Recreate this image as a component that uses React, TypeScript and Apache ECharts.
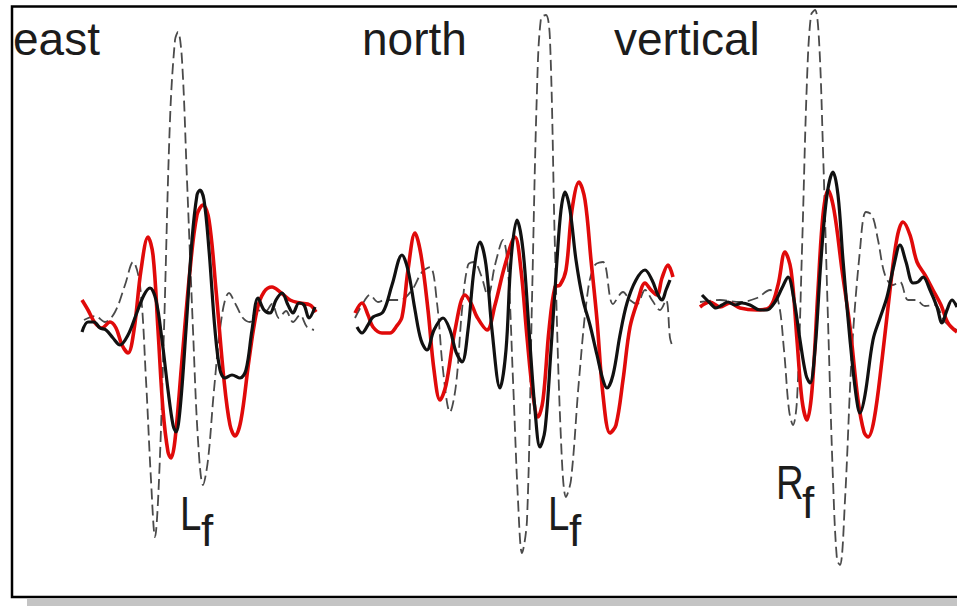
import React, { useEffect, useRef } from "react";
import * as echarts from "echarts";

// Panel titles and phase labels
const panelTitles = ["east", "north", "vertical"];
const phaseLabels = ["L", "L", "R"];
const phaseSub = ["f", "f", "f"];

// Time (s) / amplitude pairs
const eastDashed = [
  [0.4, -2.0], [1.5, -1.6], [2.5, -2.2], [3.5, -1.2], [4.5, 1.5], [5.3, 3.8], [6.0, 1.5], [6.6, -8.0],
  [7.1, -18.0], [7.5, -23.7], [7.9, -18.0], [8.4, -3.0], [9.0, 18.0], [9.5, 26.0], [9.8, 26.8], [10.2, 24.0],
  [10.7, 12.0], [11.3, -3.0], [11.8, -14.0], [12.3, -18.5], [12.8, -16.0], [13.4, -9.0], [14.2, -1.5],
  [14.9, 0.7], [15.6, -0.5], [16.3, -1.8], [17.0, -2.2], [17.7, -1.0], [18.5, -1.2], [19.2, -0.4],
  [19.9, -1.8], [20.6, -1.1], [21.3, -2.2], [22.0, -1.5], [22.7, -2.7], [23.4, -3.0],
];
const eastRed = [
  [0.2, 0.0], [0.8, -1.0], [1.5, -2.3], [2.2, -2.8], [3.0, -2.2], [3.6, -2.8], [4.2, -4.5], [4.8, -5.3],
  [5.4, -3.0], [6.1, 3.0], [6.8, 6.3], [7.3, 4.5], [7.8, -3.0], [8.3, -11.0], [8.8, -15.2], [9.1, -15.8],
  [9.5, -14.0], [10.2, -6.0], [11.0, 3.0], [11.7, 8.5], [12.3, 9.5], [12.9, 8.0], [13.6, 1.0], [14.4, -8.0],
  [15.0, -12.5], [15.5, -13.6], [16.1, -12.0], [16.9, -6.0], [17.7, -1.0], [18.4, 0.8], [19.2, 1.3],
  [20.0, 0.8], [21.0, 0.0], [22.0, -0.3], [23.0, -0.5], [23.6, -1.2],
];
const eastBlack = [
  [0.2, -3.2], [0.8, -2.2], [1.4, -2.2], [2.0, -2.8], [2.6, -3.0], [3.3, -3.8], [4.0, -4.5], [4.8, -3.5],
  [5.6, -1.5], [6.4, 0.5], [7.0, 1.2], [7.6, 0.0], [8.2, -4.0], [8.8, -9.0], [9.3, -12.5], [9.6, -13.2],
  [10.0, -11.0], [10.6, -3.0], [11.2, 6.0], [11.7, 10.5], [12.0, 11.0], [12.4, 10.0], [12.9, 5.0],
  [13.5, -3.0], [14.0, -7.0], [14.5, -7.8], [15.2, -7.5], [16.0, -7.8], [16.6, -7.0], [17.2, -3.0],
  [17.8, 0.2], [18.4, -1.0], [19.0, -1.3], [19.6, 0.0], [20.2, 0.7], [20.8, -0.5], [21.3, -1.3],
  [21.9, -0.3], [22.4, -0.5], [22.9, -1.8], [23.5, -0.7],
];

const northDashed = [
  [0.5, -1.8], [1.2, -0.5], [2.0, 0.5], [2.8, -0.2], [3.5, 0.0], [5.0, 0.0], [6.2, 1.0], [7.2, 2.8],
  [8.0, 3.3], [8.7, -0.3], [9.3, -7.0], [10.0, -11.2], [10.6, -8.5], [11.2, -1.0], [11.8, 3.5], [12.4, 3.8],
  [13.1, 2.5], [13.8, 0.4], [14.5, 3.5], [15.3, 6.0], [15.8, 3.0], [16.3, -8.0], [16.8, -20.0], [17.2, -25.3],
  [17.7, -22.0], [18.2, 0.0], [18.7, 21.0], [19.1, 28.2], [19.6, 28.5], [20.0, 26.0], [20.5, 5.0],
  [21.1, -14.0], [21.6, -19.7], [22.1, -18.0], [22.9, -8.0], [23.8, 1.0], [24.5, 3.5], [25.3, 3.8],
  [26.3, -0.4], [27.3, 0.8], [28.0, 0.0], [28.7, -0.4], [29.5, 1.0], [30.2, 0.0], [31.0, -1.0], [31.6, 0.0],
  [32.0, -3.8], [32.2, -4.5],
];
const northRed = [
  [0.5, -1.3], [1.2, -0.3], [1.8, -1.5], [2.3, -2.7], [3.2, -3.3], [4.0, -3.3], [4.6, -2.7], [5.2, -1.7],
  [5.8, 3.0], [6.5, 6.7], [7.1, 4.5], [7.8, -1.0], [8.4, -7.0], [9.0, -10.0], [9.6, -8.5], [10.5, -3.0],
  [11.5, 0.5], [12.1, -0.3], [12.7, -1.7], [13.7, -3.0], [14.5, -0.5], [15.5, 3.5], [16.5, 6.3], [17.1, 3.0],
  [17.7, -3.7], [18.3, -9.5], [18.8, -11.7], [19.3, -10.0], [19.9, -3.0], [20.5, 1.3], [21.0, 1.5],
  [21.6, 3.0], [22.2, 9.0], [22.9, 11.8], [23.5, 10.0], [24.1, 4.0], [24.7, -2.0], [25.3, -9.5],
  [26.0, -13.3], [26.6, -12.5], [27.3, -8.0], [28.0, -2.7], [28.8, 0.0], [29.5, 1.7], [30.1, 1.0],
  [30.7, 0.5], [31.2, 2.2], [31.8, 3.5], [32.3, 2.3],
];
const northBlack = [
  [0.7, -2.7], [1.2, -3.3], [1.8, -2.5], [2.3, -1.7], [3.3, -1.2], [4.2, 1.5], [5.2, 4.5], [5.8, 3.0],
  [6.5, -1.0], [7.1, -4.0], [7.7, -5.0], [8.4, -3.0], [9.3, -1.8], [10.0, -3.0], [10.6, -5.2], [11.2, -6.2],
  [11.8, -3.0], [12.4, 3.0], [13.0, 5.8], [13.6, 3.5], [14.2, -3.0], [15.0, -8.8], [15.6, -5.0], [16.1, 4.0],
  [16.7, 8.0], [17.3, 5.0], [17.9, -3.0], [18.5, -11.0], [19.0, -14.7], [19.5, -13.0], [20.1, -5.0],
  [20.7, 4.0], [21.1, 9.0], [21.5, 10.8], [22.0, 9.0], [22.6, 4.0], [23.3, 0.0], [24.0, -2.5], [24.7, -5.5],
  [25.3, -8.0], [25.7, -8.8], [26.3, -7.5], [27.0, -3.5], [27.7, -0.3], [28.6, 2.0], [29.5, 3.0],
  [30.2, 2.0], [30.8, 0.5], [31.2, 0.0], [31.6, 1.0], [32.0, 2.0],
];

const verticalDashed = [
  [0.5, -0.2], [2.5, 0.0], [4.5, -0.2], [6.2, 0.2], [7.5, 1.0], [8.3, 0.0], [8.9, -5.0], [9.4, -11.0],
  [9.8, -12.5], [10.2, -10.0], [10.7, 5.0], [11.2, 22.0], [11.6, 28.5], [12.0, 29.0], [12.4, 26.0],
  [12.8, 15.0], [13.3, -2.0], [13.8, -18.0], [14.2, -26.0], [14.5, -26.5], [15.0, -20.0], [15.7, -5.0],
  [16.5, 5.0], [17.1, 8.8], [17.7, 8.5], [18.3, 6.0], [19.0, 2.5], [19.8, 1.5], [20.5, 1.8], [21.3, 0.0],
  [22.1, 0.0], [23.0, -0.6], [24.0, -0.5], [25.0, -2.2], [26.2, -3.0],
];
const verticalRed = [
  [0.5, -0.7], [1.5, -0.2], [2.5, -0.7], [3.5, -0.3], [4.5, -0.8], [6.2, -1.0], [7.5, -0.7], [8.3, 1.5],
  [9.0, 4.8], [9.6, 3.0], [10.2, -4.0], [10.7, -10.0], [11.2, -12.0], [11.7, -9.0], [12.3, 1.0], [12.8, 8.5],
  [13.3, 11.0], [13.9, 9.0], [14.7, 3.0], [15.5, -2.7], [16.3, -10.0], [16.9, -13.2], [17.3, -13.7],
  [17.9, -12.0], [18.7, -6.0], [19.5, 1.0], [20.2, 6.2], [20.8, 7.8], [21.5, 6.5], [22.2, 3.8], [23.0, 2.5],
  [23.8, 1.0], [24.6, -0.5], [25.3, -2.3], [26.2, -3.2],
];
const verticalBlack = [
  [0.7, 0.5], [1.5, -0.3], [2.1, -0.8], [2.7, -0.5], [3.3, -0.2], [4.0, -0.5], [4.7, -0.3], [5.5, -0.5],
  [6.5, -1.0], [7.2, -1.0], [8.0, -0.2], [8.7, 1.2], [9.3, 2.3], [9.9, 0.0], [10.5, -4.0], [11.1, -7.5],
  [11.5, -8.3], [12.0, -5.0], [12.6, 4.0], [13.2, 10.5], [13.8, 12.8], [14.3, 10.5], [14.8, 4.0], [15.5, -4.0],
  [16.1, -9.5], [16.5, -11.3], [17.0, -9.5], [17.8, -4.0], [18.5, -1.8], [19.2, 0.3], [19.9, 3.5],
  [20.5, 5.5], [21.1, 3.8], [21.8, 1.7], [22.3, 1.8], [22.8, 2.3], [23.5, 1.0], [24.2, -0.7], [24.7, -2.3],
  [25.2, -1.0], [25.7, 0.0], [26.2, -0.7],
];

const panels = [
  { dashed: eastDashed, red: eastRed, black: eastBlack },
  { dashed: northDashed, red: northRed, black: northBlack },
  { dashed: verticalDashed, red: verticalRed, black: verticalBlack },
];

export default function App() {
  const ref = useRef<HTMLDivElement>(null);
  useEffect(() => {
    if (!ref.current) return;
    const chart = echarts.init(ref.current, null, { renderer: "svg" });
    const gridBox = [
      { left: 80, width: 240, max: 24 },
      { left: 350, width: 330, max: 33 },
      { left: 695, width: 262, max: 26.2 },
    ];
    const series: any[] = [];
    panels.forEach((p, i) => {
      series.push({
        type: "line", xAxisIndex: i, yAxisIndex: i, data: p.dashed, showSymbol: false, smooth: 0.35,
        lineStyle: { color: "#4a4a4a", width: 1.8, type: [11, 5] }, z: 1, silent: true,
      });
      series.push({
        type: "line", xAxisIndex: i, yAxisIndex: i, data: p.red, showSymbol: false, smooth: 0.35,
        lineStyle: { color: "#e00a0a", width: 3.6 }, z: 2, silent: true,
      });
      series.push({
        type: "line", xAxisIndex: i, yAxisIndex: i, data: p.black, showSymbol: false, smooth: 0.35,
        lineStyle: { color: "#111111", width: 3.2 }, z: 3, silent: true,
      });
    });
    const titleX = [13, 362, 614];
    // [x of main letter, top of main letter, x of subscript, top of subscript]
    const labelPos = [
      [180, 489, 201, 508],
      [548, 489, 569, 508],
      [776, 458, 802, 480],
    ];
    const font = "'Liberation Sans', Arial, sans-serif";
    const graphic: any[] = [
      { type: "rect", shape: { x: 27, y: 599, width: 940, height: 10 }, style: { fill: "#c4c4c4" }, silent: true },
      {
        type: "rect", shape: { x: 12, y: 6.5, width: 960, height: 590.5 },
        style: { fill: "none", stroke: "#000", lineWidth: 2.5 }, silent: true,
      },
    ];
    panelTitles.forEach((t, i) => {
      graphic.push({
        type: "text", x: titleX[i], y: 16,
        style: { text: t, fill: "#1c1c1c", font: "46px " + font, verticalAlign: "top" },
        silent: true,
      });
    });
    phaseLabels.forEach((t, i) => {
      const [x, y, sx, sy] = labelPos[i];
      graphic.push({
        type: "text", x, y, scaleX: 0.8,
        style: { text: t, fill: "#1c1c1c", font: "48px " + font, verticalAlign: "top" },
        silent: true,
      });
      graphic.push({
        type: "text", x: sx, y: sy,
        style: { text: phaseSub[i], fill: "#1c1c1c", font: "44px " + font, verticalAlign: "top" },
        silent: true,
      });
    });
    chart.setOption({
      animation: false,
      backgroundColor: "#ffffff",
      grid: gridBox.map((g) => ({ left: g.left, width: g.width, top: 0, height: 600 })),
      xAxis: gridBox.map((g, i) => ({ type: "value", gridIndex: i, min: 0, max: g.max, show: false })),
      yAxis: gridBox.map((g, i) => ({ type: "value", gridIndex: i, min: -30, max: 30, show: false })),
      series,
      graphic,
    });
    return () => chart.dispose();
  }, []);
  return <div ref={ref} style={{ position: "absolute", left: 0, top: 0, width: 957, height: 606, background: "#fff" }} />;
}
